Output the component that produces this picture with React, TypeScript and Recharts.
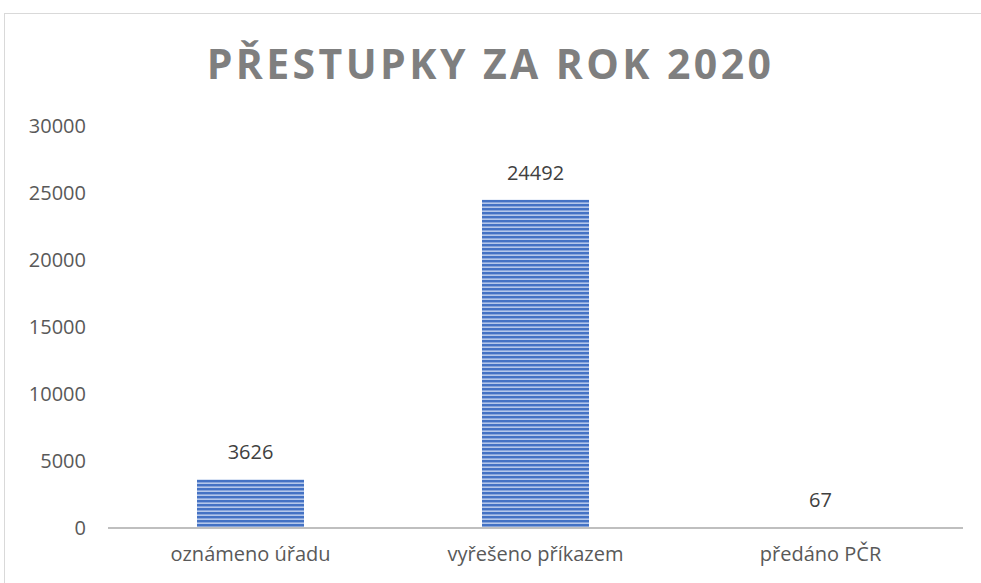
import { BarChart, Bar, XAxis, YAxis, LabelList } from 'recharts';

const categories = ['oznámeno úřadu', 'vyřešeno příkazem', 'předáno PČR'];
const values = [3626, 24492, 67];
const yTicks = [0, 5000, 10000, 15000, 20000, 25000, 30000];

const data = categories.map((name, i) => ({ name, value: values[i] }));

const FONT = '"Open Sans", sans-serif';

export default function App() {
  return (
    <div
      style={{
        position: 'absolute',
        left: 0,
        top: 0,
        width: 981,
        height: 583,
        overflow: 'hidden',
        background: '#fff',
        fontFamily: FONT,
      }}
    >
      {/* chart frame, cut off on the right and bottom like the source */}
      <div
        style={{
          position: 'absolute',
          left: 4,
          top: 13,
          width: 1100,
          height: 700,
          border: '1.5px solid #d9d9d9',
        }}
      />
      <div
        style={{
          position: 'absolute',
          left: 0,
          top: 37,
          width: 981,
          textAlign: 'center',
          fontSize: 41,
          fontWeight: 700,
          letterSpacing: 3.4,
          color: '#7f7f7f',
          lineHeight: '52px',
        }}
      >
        PŘESTUPKY ZA ROK 2020
      </div>
      <BarChart
        width={981}
        height={583}
        data={data}
        margin={{ top: 126, right: 18, bottom: 25, left: 28 }}
        style={{ position: 'absolute', left: 0, top: 0 }}
      >
        <defs>
          <pattern id="stripes" width="4" height="4" patternUnits="userSpaceOnUse">
            <rect x="0" y="0" width="4" height="4" fill="#4472C4" />
            <rect x="0" y="2.4" width="4" height="1.6" fill="#b4c7ea" />
          </pattern>
        </defs>
        <XAxis
          dataKey="name"
          height={30}
          axisLine={{ stroke: '#bfbfbf', strokeWidth: 2 }}
          tickLine={false}
          tickSize={6}
          tickMargin={13}
          tick={{ fill: '#595959', fontSize: 20, fontFamily: FONT }}
        />
        <YAxis
          domain={[0, 30000]}
          ticks={yTicks}
          width={80}
          axisLine={false}
          tickLine={false}
          tickSize={6}
          tickMargin={16}
          tick={{ fill: '#595959', fontSize: 20, fontFamily: FONT }}
        />
        <Bar dataKey="value" fill="url(#stripes)" barSize={107} isAnimationActive={false}>
          <LabelList
            dataKey="value"
            position="top"
            offset={20}
            fill="#404040"
            fontSize={20}
            fontFamily={FONT}
          />
        </Bar>
      </BarChart>
    </div>
  );
}
